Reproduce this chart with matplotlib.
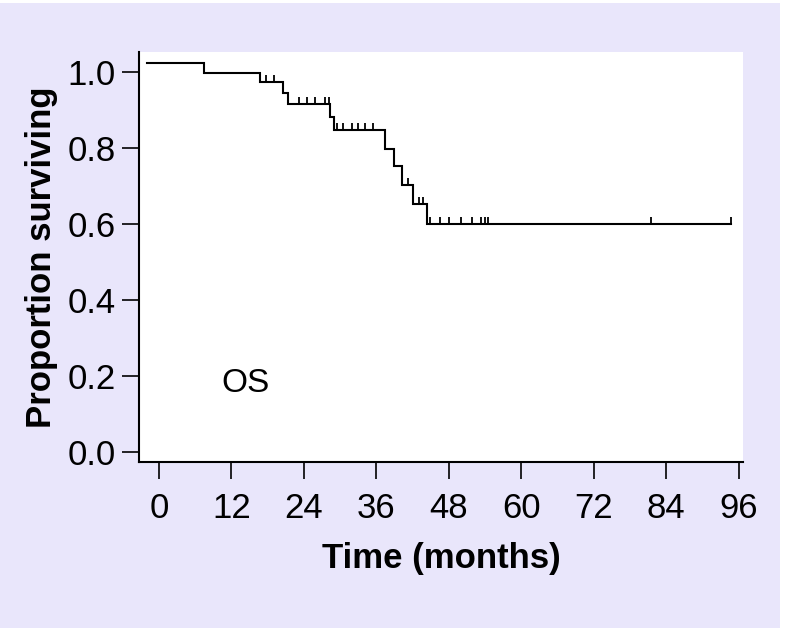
import numpy as np
import matplotlib.pyplot as plt
from matplotlib.patches import Rectangle

plt.rcParams["font.family"] = ["Liberation Sans", "DejaVu Sans"]

# Kaplan-Meier steps (months, proportion surviving)
step_times = [-2.0, 7.5, 16.8, 20.5, 21.4, 28.4, 29.0, 37.5, 38.9, 40.2, 42.0, 44.4, 94.7]
step_surv = [1.023, 0.997, 0.973, 0.946, 0.916, 0.882, 0.848, 0.798, 0.753, 0.703, 0.653, 0.600, 0.600]

# censored observations (months)
censor_times = [17.8, 19.0, 23.2, 24.5, 25.8, 27.5, 28.2,
                29.4, 30.5, 31.9, 32.9, 34.1, 35.4,
                41.2, 43.1, 43.7,
                44.9, 46.5, 48.0, 50.0, 51.8, 53.4, 54.0, 54.5,
                81.5, 94.7]

x_ticks = [0, 12, 24, 36, 48, 60, 72, 84, 96]
y_ticks = [0.0, 0.2, 0.4, 0.6, 0.8, 1.0]

BG = "#e9e6fb"
FS = 25

fig = plt.figure(figsize=(7.86, 6.28), dpi=100, facecolor="white")
fig.patches.append(Rectangle((0, 0), 780 / 786, 625 / 628, transform=fig.transFigure,
                             facecolor=BG, edgecolor="none", zorder=-10))

ax = fig.add_axes([139 / 786, 1 - 462 / 628, (743 - 139) / 786, (462 - 52) / 628])
ax.set_facecolor("white")

ax.plot(step_times, step_surv, drawstyle="steps-post", color="black", lw=1.5,
        solid_joinstyle="miter")

# censor marks sit on the curve level at that time
idx = np.searchsorted(step_times, censor_times, side="right") - 1
levels = np.array(step_surv)[idx]
ax.vlines(censor_times, levels, levels + 0.019, color="black", lw=1.3)

ax.text(10.4, 0.18, "OS", fontsize=FS - 1, ha="left", va="center")

ax.set_xlim(-3.3, 96.7)
ax.set_ylim(-0.026, 1.053)
ax.set_xticks(x_ticks)
ax.set_yticks(y_ticks)
ax.set_yticklabels([f"{v:.1f}" for v in y_ticks])
ax.tick_params(axis="both", labelsize=FS, length=12.5, width=1.2, pad=4, color="black")
ax.tick_params(axis="x", pad=9)

for side in ("top", "right"):
    ax.spines[side].set_visible(False)
for side in ("left", "bottom"):
    ax.spines[side].set_linewidth(1.5)

ax.set_xlabel("Time (months)", fontsize=FS, fontweight="bold", labelpad=12)
ax.set_ylabel("Proportion surviving", fontsize=FS, fontweight="bold", labelpad=7)

fig.savefig("out.png", dpi=100, facecolor=fig.get_facecolor())
